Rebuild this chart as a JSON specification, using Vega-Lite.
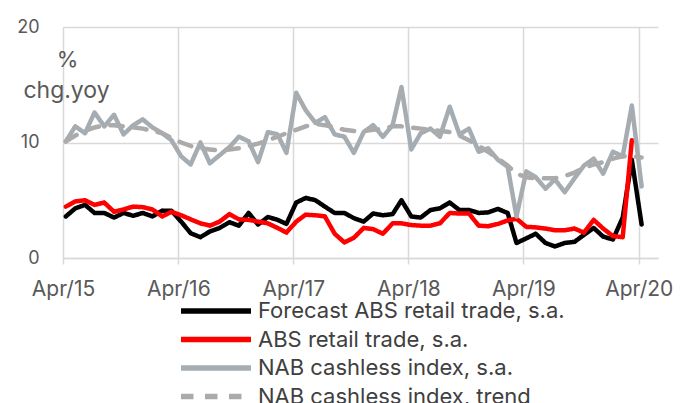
{
  "$schema": "https://vega.github.io/schema/vega-lite/v6.json",
  "width": 595,
  "height": 231,
  "autosize": {"type": "none"},
  "padding": {"left": 63, "top": 27, "right": 27, "bottom": 145},
  "background": "white",
  "config": {"font": "Inter", "view": {"stroke": null}},
  "data": {"values": [
    {"date": "2015-04-10", "fc": 3.6, "abs": 4.45, "nab": 10.1, "trend": 10.1},
    {"date": "2015-05-10", "fc": 4.3, "abs": 4.9, "nab": 11.4, "trend": 10.6},
    {"date": "2015-06-10", "fc": 4.6, "abs": 5.0, "nab": 10.8, "trend": 11.0},
    {"date": "2015-07-10", "fc": 3.9, "abs": 4.6, "nab": 12.6, "trend": 11.3},
    {"date": "2015-08-10", "fc": 3.9, "abs": 4.8, "nab": 11.4, "trend": 11.5},
    {"date": "2015-09-10", "fc": 3.5, "abs": 4.0, "nab": 12.4, "trend": 11.5},
    {"date": "2015-10-10", "fc": 3.9, "abs": 4.2, "nab": 10.7, "trend": 11.4},
    {"date": "2015-11-10", "fc": 3.65, "abs": 4.45, "nab": 11.5, "trend": 11.3},
    {"date": "2015-12-10", "fc": 3.9, "abs": 4.4, "nab": 12.0, "trend": 11.2},
    {"date": "2016-01-10", "fc": 3.6, "abs": 4.2, "nab": 11.3, "trend": 11.0},
    {"date": "2016-02-10", "fc": 4.1, "abs": 3.6, "nab": 10.8, "trend": 10.8},
    {"date": "2016-03-10", "fc": 4.1, "abs": 4.0, "nab": 10.2, "trend": 10.4},
    {"date": "2016-04-10", "fc": 3.15, "abs": 3.7, "nab": 8.8, "trend": 10.0},
    {"date": "2016-05-10", "fc": 2.15, "abs": 3.35, "nab": 8.1, "trend": 9.7},
    {"date": "2016-06-10", "fc": 1.8, "abs": 3.0, "nab": 10.0, "trend": 9.5},
    {"date": "2016-07-10", "fc": 2.3, "abs": 2.8, "nab": 8.2, "trend": 9.4},
    {"date": "2016-08-10", "fc": 2.6, "abs": 3.15, "nab": 8.9, "trend": 9.3},
    {"date": "2016-09-10", "fc": 3.1, "abs": 3.8, "nab": 9.6, "trend": 9.4},
    {"date": "2016-10-10", "fc": 2.8, "abs": 3.35, "nab": 10.5, "trend": 9.5},
    {"date": "2016-11-10", "fc": 3.9, "abs": 3.3, "nab": 10.1, "trend": 9.7},
    {"date": "2016-12-10", "fc": 2.9, "abs": 3.15, "nab": 8.3, "trend": 9.9},
    {"date": "2017-01-10", "fc": 3.55, "abs": 3.0, "nab": 10.9, "trend": 10.2},
    {"date": "2017-02-10", "fc": 3.3, "abs": 2.6, "nab": 10.7, "trend": 10.5},
    {"date": "2017-03-10", "fc": 2.95, "abs": 2.2, "nab": 9.1, "trend": 10.8},
    {"date": "2017-04-10", "fc": 4.8, "abs": 3.15, "nab": 14.3, "trend": 11.1},
    {"date": "2017-05-10", "fc": 5.2, "abs": 3.75, "nab": 12.8, "trend": 11.4},
    {"date": "2017-06-10", "fc": 5.0, "abs": 3.7, "nab": 11.7, "trend": 11.6},
    {"date": "2017-07-10", "fc": 4.45, "abs": 3.6, "nab": 12.2, "trend": 11.5},
    {"date": "2017-08-10", "fc": 3.9, "abs": 2.1, "nab": 10.7, "trend": 11.3},
    {"date": "2017-09-10", "fc": 3.9, "abs": 1.35, "nab": 10.5, "trend": 11.1},
    {"date": "2017-10-10", "fc": 3.45, "abs": 1.75, "nab": 9.1, "trend": 11.0},
    {"date": "2017-11-10", "fc": 3.15, "abs": 2.6, "nab": 10.9, "trend": 11.0},
    {"date": "2017-12-10", "fc": 3.85, "abs": 2.5, "nab": 11.5, "trend": 11.1},
    {"date": "2018-01-10", "fc": 3.7, "abs": 2.1, "nab": 10.5, "trend": 11.2},
    {"date": "2018-02-10", "fc": 3.8, "abs": 3.0, "nab": 11.5, "trend": 11.4},
    {"date": "2018-03-10", "fc": 5.0, "abs": 3.0, "nab": 14.8, "trend": 11.4},
    {"date": "2018-04-10", "fc": 3.6, "abs": 2.85, "nab": 9.4, "trend": 11.3},
    {"date": "2018-05-10", "fc": 3.5, "abs": 2.8, "nab": 10.8, "trend": 11.2},
    {"date": "2018-06-10", "fc": 4.15, "abs": 2.8, "nab": 11.2, "trend": 11.1},
    {"date": "2018-07-10", "fc": 4.3, "abs": 3.0, "nab": 10.5, "trend": 11.0},
    {"date": "2018-08-10", "fc": 4.8, "abs": 3.9, "nab": 13.1, "trend": 10.9},
    {"date": "2018-09-10", "fc": 4.15, "abs": 3.85, "nab": 10.7, "trend": 10.6},
    {"date": "2018-10-10", "fc": 4.15, "abs": 3.85, "nab": 11.2, "trend": 10.2},
    {"date": "2018-11-10", "fc": 3.9, "abs": 2.8, "nab": 9.2, "trend": 9.7},
    {"date": "2018-12-10", "fc": 3.95, "abs": 2.75, "nab": 9.5, "trend": 9.2},
    {"date": "2019-01-10", "fc": 4.25, "abs": 2.95, "nab": 8.5, "trend": 8.6},
    {"date": "2019-02-10", "fc": 3.9, "abs": 3.25, "nab": 7.9, "trend": 8.0},
    {"date": "2019-03-10", "fc": 1.3, "abs": 3.4, "nab": 3.6, "trend": 7.3},
    {"date": "2019-04-10", "fc": 1.7, "abs": 2.7, "nab": 7.5, "trend": 7.0},
    {"date": "2019-05-10", "fc": 2.1, "abs": 2.65, "nab": 7.0, "trend": 6.9},
    {"date": "2019-06-10", "fc": 1.3, "abs": 2.55, "nab": 6.0, "trend": 6.9},
    {"date": "2019-07-10", "fc": 1.0, "abs": 2.4, "nab": 6.8, "trend": 6.9},
    {"date": "2019-08-10", "fc": 1.3, "abs": 2.4, "nab": 5.7, "trend": 7.1},
    {"date": "2019-09-10", "fc": 1.4, "abs": 2.55, "nab": 6.9, "trend": 7.4},
    {"date": "2019-10-10", "fc": 2.0, "abs": 2.2, "nab": 8.0, "trend": 7.8},
    {"date": "2019-11-10", "fc": 2.6, "abs": 3.3, "nab": 8.6, "trend": 8.1},
    {"date": "2019-12-10", "fc": 1.85, "abs": 2.55, "nab": 7.3, "trend": 8.3},
    {"date": "2020-01-10", "fc": 1.6, "abs": 1.9, "nab": 9.2, "trend": 8.6},
    {"date": "2020-02-10", "fc": 3.5, "abs": 1.8, "nab": 8.8, "trend": 8.8},
    {"date": "2020-03-10", "fc": 8.5, "abs": 10.2, "nab": 13.2, "trend": 8.8},
    {"date": "2020-04-10", "fc": 2.9, "abs": null, "nab": 6.2, "trend": 8.7}
  ]},
  "transform": [{"fold": ["fc", "abs", "nab", "trend"], "as": ["series", "value"]}],
  "mark": {"type": "line", "strokeWidth": 4.5, "strokeJoin": "round", "strokeCap": "round"},
  "encoding": {
    "x": {
      "field": "date", "type": "temporal",
      "scale": {"type": "utc", "domain": [{"year": 2015, "month": 4, "date": 1, "utc": true}, {"year": 2020, "month": 6, "date": 1, "utc": true}]},
      "axis": {
        "values": [
          {"year": 2015, "month": 4, "date": 1, "utc": true},
          {"year": 2016, "month": 4, "date": 1, "utc": true},
          {"year": 2017, "month": 4, "date": 1, "utc": true},
          {"year": 2018, "month": 4, "date": 1, "utc": true},
          {"year": 2019, "month": 4, "date": 1, "utc": true},
          {"year": 2020, "month": 4, "date": 1, "utc": true}
        ],
        "labelExpr": "utcFormat(datum.value, '%b/%y')",
        "labelFontSize": 21, "labelColor": "#595959", "labelPadding": 14, "labelFlush": false, "labelDx": 4,
        "grid": true, "gridColor": "#D9D9D9", "gridWidth": 1.5,
        "domainColor": "#D9D9D9", "domainWidth": 1.5,
        "tickColor": "#D9D9D9", "tickWidth": 1.5, "tickSize": 6,
        "title": "%", "titleAngle": 0, "titleAlign": "center", "titleBaseline": "alphabetic",
        "titleX": 4, "titleY": -192, "titleFontSize": 22, "titleFontWeight": "normal", "titleColor": "#595959"
      }
    },
    "y": {
      "field": "value", "type": "quantitative",
      "scale": {"domain": [0, 20]},
      "axis": {
        "values": [0, 10, 20],
        "domain": false, "ticks": false,
        "grid": true, "gridColor": "#D9D9D9", "gridWidth": 1.5,
        "labelFontSize": 18, "labelColor": "#595959", "labelPadding": 24, "labelDy": 2,
        "title": "chg.yoy", "titleAngle": 0, "titleAlign": "center", "titleBaseline": "alphabetic",
        "titleX": 3, "titleY": 70, "titleFontSize": 23, "titleFontWeight": "normal", "titleColor": "#595959"
      }
    },
    "color": {
      "field": "series", "type": "nominal",
      "scale": {"domain": ["fc", "abs", "nab", "trend"], "range": ["#000000", "#FF0000", "#A5ADB2", "#ABABAB"]},
      "legend": {
        "orient": "none", "legendX": 140, "legendY": 271, "direction": "vertical", "title": null,
        "symbolType": "M-3.5,0H3.5", "symbolSize": 400, "symbolStrokeWidth": 5.5,
        "labelFontSize": 22, "labelColor": "#404040", "labelOffset": 29, "labelLimit": 500, "rowPadding": 4.5,
        "labelExpr": "datum.value == 'fc' ? 'Forecast ABS retail trade, s.a.' : datum.value == 'abs' ? 'ABS retail trade, s.a.' : datum.value == 'nab' ? 'NAB cashless index, s.a.' : 'NAB cashless index, trend'"
      }
    },
    "strokeDash": {
      "field": "series", "type": "nominal",
      "scale": {"domain": ["fc", "abs", "nab", "trend"], "range": [[1, 0], [1, 0], [1, 0], [12.5, 11.5]]},
      "legend": {
        "orient": "none", "legendX": 140, "legendY": 271, "direction": "vertical", "title": null,
        "symbolType": "M-3.5,0H3.5", "symbolSize": 400, "symbolStrokeWidth": 5.5,
        "labelFontSize": 22, "labelColor": "#404040", "labelOffset": 29, "labelLimit": 500, "rowPadding": 4.5,
        "labelExpr": "datum.value == 'fc' ? 'Forecast ABS retail trade, s.a.' : datum.value == 'abs' ? 'ABS retail trade, s.a.' : datum.value == 'nab' ? 'NAB cashless index, s.a.' : 'NAB cashless index, trend'"
      }
    }
  }
}
